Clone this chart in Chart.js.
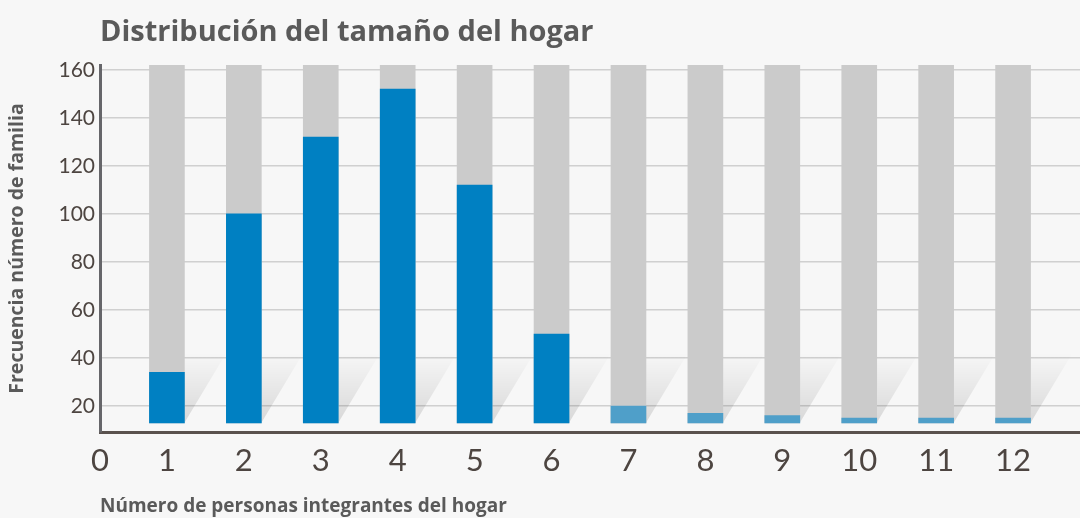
<!DOCTYPE html>
<html>
<head>
<meta charset="utf-8">
<script src="https://cdn.jsdelivr.net/npm/chart.js@4/dist/chart.umd.min.js"></script>
<style>
  html, body { margin: 0; padding: 0; background: #f7f7f7; }
  #wrap { position: relative; width: 1080px; height: 518px; }
</style>
</head>
<body>
<div id="wrap"><canvas id="hogarChart" width="1080" height="518"></canvas></div>
<script>
// Datos del gráfico
const personas = [1, 2, 3, 4, 5, 6, 7, 8, 9, 10, 11, 12];
const frecuencias = [34, 100, 132, 152, 112, 50, 20, 17, 16, 15, 15, 15];
const fondoMax = [162, 162, 162, 162, 162, 162, 162, 162, 162, 162, 162, 162];
const xTickLabels = ['0', '1', '2', '3', '4', '5', '6', '7', '8', '9', '10', '11', '12'];
const yTicks = [20, 40, 60, 80, 100, 120, 140, 160];
const baseValor = 13;
const titulo = 'Distribución del tamaño del hogar';

const azulOscuro = '#0080c2';
const azulClaro = '#4f9fc9';

// Título alineado con el eje Y
const tituloPlugin = {
    id: 'tituloIzq',
    afterDraw(chart) {
        const ctx = chart.ctx;
        ctx.save();
        ctx.fillStyle = '#5a5a5a';
        ctx.font = 'bold 29px "Open Sans"';
        ctx.textBaseline = 'alphabetic';
        ctx.fillText(titulo, chart.chartArea.left, 41);
        ctx.restore();
    }
};

// Sombra diagonal a la derecha de cada barra
const sombraPlugin = {
    id: 'sombra',
    beforeDatasetsDraw(chart) {
        const ctx = chart.ctx;
        const meta = chart.getDatasetMeta(0);
        ctx.save();
        meta.data.forEach(bar => {
            const r = bar.x + bar.width / 2;
            const b = bar.base;
            const h = 70;
            const g = ctx.createLinearGradient(0, b, 0, b - h);
            g.addColorStop(0, 'rgba(0,0,0,0.12)');
            g.addColorStop(1, 'rgba(0,0,0,0)');
            ctx.fillStyle = g;
            ctx.beginPath();
            ctx.moveTo(r, b);
            ctx.lineTo(r + 42, b - h);
            ctx.lineTo(r, b - h);
            ctx.closePath();
            ctx.fill();
        });
        ctx.restore();
    }
};

const ctx = document.getElementById('hogarChart').getContext('2d');
const hogarChart = new Chart(ctx, {
    type: 'bar',
    data: {
        labels: personas,
        datasets: [{
            label: 'fondo',
            data: personas.map((p, i) => ({ x: p, y: fondoMax[i] })),
            backgroundColor: '#cbcbcb',
            base: baseValor,
            grouped: false,
            barThickness: 35,
            order: 2
        }, {
            label: 'Frecuencia',
            data: personas.map((p, i) => ({ x: p, y: frecuencias[i] })),
            backgroundColor: personas.map(p => p <= 6 ? azulOscuro : azulClaro),
            base: baseValor,
            grouped: false,
            barThickness: 35,
            order: 1
        }]
    },
    options: {
        responsive: false,
        animation: false,
        layout: { padding: { top: 65, right: 0, left: 0, bottom: 0 } },
        plugins: {
            legend: { display: false },
            tooltip: { enabled: false }
        },
        scales: {
            x: {
                type: 'linear',
                offset: false,
                min: 0.13,
                max: 12.87,
                afterBuildTicks: axis => {
                    axis.ticks = xTickLabels.map((t, i) => ({ value: i === 0 ? 0.13 : i }));
                },
                ticks: {
                    autoSkip: false,
                    maxRotation: 0,
                    padding: 10,
                    color: '#4d4541',
                    font: { family: 'Lato', size: 31 },
                    callback: (v, i) => xTickLabels[i]
                },
                grid: { display: false, drawTicks: false },
                border: { color: '#5a524e', width: 3 },
                title: {
                    display: true,
                    text: 'Número de personas integrantes del hogar',
                    align: 'start',
                    color: '#5a5a5a',
                    font: { family: 'Open Sans', size: 19, weight: 'bold' },
                    padding: { top: 6, bottom: 0 }
                }
            },
            y: {
                min: 9.2,
                max: 162,
                afterFit: axis => { axis.width = 100; },
                afterBuildTicks: axis => {
                    axis.ticks = yTicks.map(v => ({ value: v }));
                },
                ticks: {
                    color: '#4d4541',
                    font: { family: 'Lato', size: 21 },
                    padding: 5
                },
                grid: { color: '#d0d0d0', lineWidth: 1.5, drawTicks: false },
                border: { color: '#66666a', width: 3 },
                title: {
                    display: true,
                    text: 'Frecuencia número de familia',
                    color: '#5a5a5a',
                    font: { family: 'Open Sans', size: 19.5, weight: 'bold' },
                    padding: { top: 6, bottom: 0 }
                }
            }
        }
    },
    plugins: [sombraPlugin, tituloPlugin]
});
</script>
</body>
</html>
